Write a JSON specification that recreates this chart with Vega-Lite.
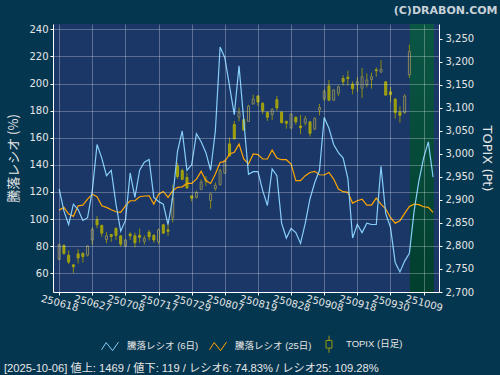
{
"$schema": "https://vega.github.io/schema/vega-lite/v6.json",
"width": 386, "height": 268,
"autosize": {"type": "none"},
"padding": {"left": 53, "top": 24, "right": 61, "bottom": 83},
"background": "#053650",
"config": {
 "view": {"fill": "#1a3767", "stroke": null},
 "axis": {"labelFont": "DejaVu Sans", "labelFontSize": 10, "labelColor": "#e6e6e6", "titleColor": "#e6e6e6", "titleFontWeight": "normal", "domainColor": "#ffffff", "tickColor": "#ffffff", "gridColor": "#ffffff", "gridOpacity": 0.28}
},
"title": {"text": "[2025-10-06]  値上: 1469 / 値下: 119 / レシオ6: 74.83% / レシオ25: 109.28%", "orient": "bottom", "anchor": "start", "frame": "bounds", "font": "Liberation Sans, Noto Sans CJK JP", "fontSize": 11.2, "fontWeight": "normal", "color": "#e6e6e6", "offset": 8, "dx": -4},
"data": {"values": [
{"i":0,"o":2771,"h":2805,"l":2770,"c":2803,"r6":122,"r25":106.6},
{"i":1,"o":2801,"h":2804,"l":2781,"c":2784,"r6":106,"r25":108.6},
{"i":2,"o":2780,"h":2790,"l":2761,"c":2765,"r6":96,"r25":103.7},
{"i":3,"o":2759,"h":2760,"l":2741,"c":2755,"r6":111,"r25":102},
{"i":4,"o":2783,"h":2793,"l":2762,"c":2774,"r6":107,"r25":109.8},
{"i":5,"o":2784,"h":2786,"l":2764,"c":2777,"r6":99,"r25":110.3},
{"i":6,"o":2780,"h":2801,"l":2777,"c":2800,"r6":101,"r25":114.7},
{"i":7,"o":2813,"h":2841,"l":2803,"c":2836,"r6":121,"r25":118.4},
{"i":8,"o":2857,"h":2865,"l":2839,"c":2846,"r6":155,"r25":116.5},
{"i":9,"o":2845,"h":2845,"l":2820,"c":2828,"r6":145,"r25":109.8},
{"i":10,"o":2814,"h":2830,"l":2806,"c":2822,"r6":132,"r25":108.6},
{"i":11,"o":2825,"h":2825,"l":2809,"c":2821,"r6":136,"r25":106.9},
{"i":12,"o":2838,"h":2841,"l":2813,"c":2823,"r6":111,"r25":105.4},
{"i":13,"o":2822,"h":2823,"l":2799,"c":2804,"r6":91,"r25":104.9},
{"i":14,"o":2800,"h":2815,"l":2799,"c":2813,"r6":99,"r25":109.8},
{"i":15,"o":2826,"h":2830,"l":2813,"c":2822,"r6":134,"r25":113.5},
{"i":16,"o":2822,"h":2829,"l":2797,"c":2807,"r6":116,"r25":113.5},
{"i":17,"o":2823,"h":2838,"l":2807,"c":2819,"r6":136,"r25":116.5},
{"i":18,"o":2810,"h":2823,"l":2803,"c":2817,"r6":142,"r25":117},
{"i":19,"o":2830,"h":2835,"l":2812,"c":2820,"r6":144,"r25":117.2},
{"i":20,"o":2823,"h":2826,"l":2807,"c":2813,"r6":116,"r25":111},
{"i":21,"o":2809,"h":2838,"l":2804,"c":2835,"r6":113,"r25":118.4},
{"i":22,"o":2846,"h":2848,"l":2826,"c":2828,"r6":111,"r25":120.4},
{"i":23,"o":2835,"h":2848,"l":2822,"c":2832,"r6":96,"r25":116},
{"i":24,"o":2862,"h":2933,"l":2851,"c":2904,"r6":116,"r25":120.9},
{"i":25,"o":2974,"h":2981,"l":2946,"c":2951,"r6":150,"r25":123.4},
{"i":26,"o":2964,"h":2968,"l":2943,"c":2945,"r6":165,"r25":123.8},
{"i":27,"o":2949,"h":2959,"l":2925,"c":2926,"r6":136,"r25":126.3},
{"i":28,"o":2909,"h":2909,"l":2897,"c":2904,"r6":140,"r25":126.3},
{"i":29,"o":2906,"h":2920,"l":2903,"c":2916,"r6":163,"r25":129.5},
{"i":30,"o":2923,"h":2945,"l":2922,"c":2939,"r6":157,"r25":135.2},
{"i":31,"o":2941,"h":2952,"l":2930,"c":2945,"r6":149,"r25":128.3},
{"i":32,"o":2899,"h":2916,"l":2881,"c":2913,"r6":136,"r25":126.3},
{"i":33,"o":2925,"h":2938,"l":2920,"c":2932,"r6":165,"r25":133.2},
{"i":34,"o":2933,"h":2968,"l":2932,"c":2964,"r6":227,"r25":141.8},
{"i":35,"o":2958,"h":2988,"l":2957,"c":2986,"r6":219,"r25":142.5},
{"i":36,"o":3022,"h":3036,"l":2994,"c":2996,"r6":198,"r25":148},
{"i":37,"o":3064,"h":3072,"l":3032,"c":3033,"r6":177,"r25":149.2},
{"i":38,"o":3080,"h":3101,"l":3071,"c":3090,"r6":213,"r25":155.3},
{"i":39,"o":3075,"h":3078,"l":3051,"c":3052,"r6":173,"r25":144.3},
{"i":40,"o":3071,"h":3107,"l":3070,"c":3104,"r6":133,"r25":140.6},
{"i":41,"o":3109,"h":3129,"l":3107,"c":3119,"r6":135,"r25":148},
{"i":42,"o":3126,"h":3128,"l":3104,"c":3113,"r6":135,"r25":147.5},
{"i":43,"o":3110,"h":3113,"l":3087,"c":3094,"r6":121,"r25":144.3},
{"i":44,"o":3090,"h":3093,"l":3072,"c":3080,"r6":110,"r25":144.3},
{"i":45,"o":3086,"h":3100,"l":3074,"c":3097,"r6":137,"r25":150.9},
{"i":46,"o":3118,"h":3126,"l":3094,"c":3100,"r6":132,"r25":145},
{"i":47,"o":3091,"h":3093,"l":3067,"c":3068,"r6":97,"r25":143.8},
{"i":48,"o":3071,"h":3072,"l":3055,"c":3067,"r6":86,"r25":143.8},
{"i":49,"o":3057,"h":3088,"l":3054,"c":3087,"r6":93,"r25":140.6},
{"i":50,"o":3080,"h":3081,"l":3064,"c":3070,"r6":90,"r25":128.3},
{"i":51,"o":3061,"h":3085,"l":3043,"c":3057,"r6":82,"r25":128.3},
{"i":52,"o":3067,"h":3083,"l":3062,"c":3077,"r6":97,"r25":132},
{"i":53,"o":3070,"h":3071,"l":3038,"c":3045,"r6":115,"r25":134.4},
{"i":54,"o":3054,"h":3080,"l":3052,"c":3077,"r6":127,"r25":135.2},
{"i":55,"o":3096,"h":3109,"l":3084,"c":3101,"r6":136,"r25":132.7},
{"i":56,"o":3120,"h":3141,"l":3115,"c":3136,"r6":175,"r25":132.5},
{"i":57,"o":3148,"h":3161,"l":3115,"c":3117,"r6":167,"r25":134.4},
{"i":58,"o":3117,"h":3141,"l":3115,"c":3139,"r6":155,"r25":129.5},
{"i":59,"o":3132,"h":3149,"l":3126,"c":3146,"r6":149,"r25":122.1},
{"i":60,"o":3164,"h":3171,"l":3149,"c":3157,"r6":145,"r25":120.2},
{"i":61,"o":3167,"h":3181,"l":3149,"c":3164,"r6":130,"r25":119.7},
{"i":62,"o":3152,"h":3158,"l":3130,"c":3142,"r6":86,"r25":111.8},
{"i":63,"o":3151,"h":3167,"l":3135,"c":3157,"r6":96,"r25":113.5},
{"i":64,"o":3143,"h":3187,"l":3122,"c":3168,"r6":90,"r25":114.7},
{"i":65,"o":3151,"h":3175,"l":3145,"c":3161,"r6":97,"r25":110.3},
{"i":66,"o":3162,"h":3177,"l":3142,"c":3168,"r6":96,"r25":110.3},
{"i":67,"o":3183,"h":3188,"l":3168,"c":3181,"r6":96,"r25":115.5},
{"i":68,"o":3178,"h":3204,"l":3177,"c":3184,"r6":139,"r25":111},
{"i":69,"o":3157,"h":3157,"l":3128,"c":3128,"r6":104,"r25":107.4},
{"i":70,"o":3135,"h":3146,"l":3112,"c":3129,"r6":94,"r25":101.2},
{"i":71,"o":3119,"h":3122,"l":3077,"c":3090,"r6":68,"r25":97},
{"i":72,"o":3091,"h":3104,"l":3068,"c":3084,"r6":61,"r25":98.8},
{"i":73,"o":3090,"h":3130,"l":3087,"c":3126,"r6":69,"r25":104.2},
{"i":74,"o":3172,"h":3238,"l":3165,"c":3223,"r6":74.83,"r25":109.28},
{"i":75,"r6":106,"r25":111},
{"i":76,"r6":128,"r25":110.6},
{"i":77,"r6":145,"r25":109.1},
{"i":78,"r6":157,"r25":108.6},
{"i":79,"r6":131,"r25":104.9}
]},
"layer": [
 {
  "data": {"values": [{"s": 74.1, "e": 79.2}]},
  "mark": {"type": "rect", "color": {"gradient": "linear", "x1": 0, "y1": 0, "x2": 0, "y2": 1, "stops": [{"offset": 0, "color": "#0b5645"}, {"offset": 1, "color": "#013e2e"}]}},
  "encoding": {
   "x": {"field": "s", "type": "quantitative", "scale": {"domain": [-0.25, 79.2], "nice": false, "zero": false},
    "axis": {"orient": "top", "title": "(C)DRABON.COM", "labels": false, "ticks": false, "domain": false, "grid": false, "titleFont": "DejaVu Sans", "titleFontWeight": "bold", "titleFontSize": 11, "titleColor": "#c8d2d8", "titleX": 444, "titleY": -11, "titleAlign": "right", "titleBaseline": "alphabetic", "titleAngle": 0}},
   "x2": {"field": "e"}
  }
 },
 {
  "mark": {"type": "rule", "color": "#8c8c10", "strokeWidth": 1},
  "encoding": {
   "x": {"field": "i", "type": "quantitative", "scale": {"domain": [-0.25, 79.2], "nice": false, "zero": false},
    "axis": {"orient": "bottom", "values": [0, 7, 14, 21, 28, 35, 42, 49, 56, 63, 70, 77], "labelExpr": "['250618','250627','250708','250717','250729','250807','250819','250828','250908','250918','250930','251009'][round(datum.value/7)]", "labelAngle": 15, "labelAlign": "center", "labelBaseline": "middle", "labelPadding": 8, "tickSize": 3, "labelFlush": false, "labelOverlap": false, "labelBound": false, "grid": true, "title": null, "zindex": 1}},
   "y": {"field": "l", "type": "quantitative", "scale": {"domain": [2700, 3282.6], "nice": false, "zero": false},
    "axis": {"orient": "right", "values": [2700, 2750, 2800, 2850, 2900, 2950, 3000, 3050, 3100, 3150, 3200, 3250], "labelExpr": "format(datum.value, ',d')", "title": "TOPIX (Pt)", "titleFont": "DejaVu Sans", "titleFontSize": 13, "titlePadding": 6, "tickSize": 3, "labelPadding": 3, "grid": false}},
   "y2": {"field": "h"}
  }
 },
 {
  "mark": {"type": "bar", "size": 2, "strokeWidth": 1},
  "encoding": {
   "x": {"field": "i", "type": "quantitative", "scale": {"domain": [-0.25, 79.2], "nice": false, "zero": false}, "axis": null},
   "y": {"field": "o", "type": "quantitative", "scale": {"domain": [2700, 3282.6], "nice": false, "zero": false}, "axis": null},
   "y2": {"field": "c"},
   "fill": {"condition": {"test": "datum.c < datum.o", "value": "#9a9a08"}, "value": "#1a3767"},
   "stroke": {"condition": {"test": "datum.c < datum.o", "value": "#a6a610"}, "value": "#86865a"}
  }
 },
 {
  "mark": {"type": "line", "strokeWidth": 1.2},
  "encoding": {
   "x": {"field": "i", "type": "quantitative", "scale": {"domain": [-0.25, 79.2], "nice": false, "zero": false}, "axis": null},
   "y": {"field": "r25", "type": "quantitative", "scale": {"domain": [46.2, 243.9], "nice": false, "zero": false}, "axis": null},
   "color": {"datum": "騰落レシオ (25日)", "type": "nominal"}
  }
 },
 {
  "mark": {"type": "line", "strokeWidth": 1.2},
  "encoding": {
   "x": {"field": "i", "type": "quantitative", "scale": {"domain": [-0.25, 79.2], "nice": false, "zero": false}, "axis": null},
   "y": {"field": "r6", "type": "quantitative", "scale": {"domain": [46.2, 243.9], "nice": false, "zero": false},
    "axis": {"orient": "left", "values": [60, 80, 100, 120, 140, 160, 180, 200, 220, 240], "title": "騰落レシオ (%)", "titleFont": "Noto Sans CJK JP", "titleFontSize": 13, "titlePadding": 8, "tickSize": 3, "labelPadding": 2, "grid": true, "zindex": 1}},
   "color": {"datum": "騰落レシオ (6日)", "type": "nominal",
    "scale": {"domain": ["騰落レシオ (6日)", "騰落レシオ (25日)", "TOPIX (日足)"], "range": ["#87cefa", "#ffa500", "#9a9a10"]},
    "legend": {"orient": "none", "legendX": 48, "legendY": 311, "direction": "horizontal", "title": null, "labelFont": "Liberation Sans, Noto Sans CJK JP", "labelFontSize": 9.5, "labelColor": "#e6e6e6", "symbolSize": 289, "symbolStrokeWidth": 1, "labelOffset": 8, "columnPadding": 8,
     "encode": {"symbols": {"update": {"shape": {"signal": "datum.value === 'TOPIX (日足)' ? 'M0,-1L0,-0.45M-0.35,-0.45L0.35,-0.45L0.35,0.45L-0.35,0.45ZM0,0.45L0,1' : 'M-1,0.4L-0.45,-0.45L0.3,0.5L1,-0.5'"}, "fill": {"value": "transparent"}}}}}}
  }
 }
],
"resolve": {"scale": {"y": "independent"}, "axis": {"x": "independent", "y": "independent"}}
}
